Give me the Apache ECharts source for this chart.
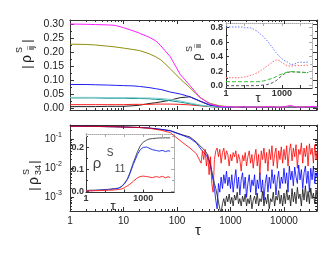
<!DOCTYPE html>
<html><head><meta charset="utf-8">
<script src="https://cdn.jsdelivr.net/npm/echarts@6/dist/echarts.min.js"></script>
<style>html,body{margin:0;padding:0;background:#fff}#c{width:334px;height:256px}</style>
</head><body><div id="c"></div>
<script>
// ---------- DATA ----------
// Top panel |rho^S_ij| vs tau
const topTau = [1,2,3,5,7,10,15,20,30,40,50,75,115,175,270,410,630,1000,1300,1700,2200,2800,3600,4600,6000,7700,10000,13000,17000,22000,28000,36000,42000];
const topMagenta = [.300,.299,.298,.297,.295,.287,.276,.267,.253,.240,.222,.183,.120,.080,.038,.014,.006,.004,.003,.005,.003,.004,.003,.005,.004,.003,.004,.009,.004,.003,.005,.006,.004];
const topOlive = [.228,.227,.225,.221,.218,.214,.209,.205,.194,.183,.172,.140,.104,.072,.037,.017,.008,.004,.003,.004,.003,.003,.004,.003,.004,.003,.003,.004,.003,.004,.003,.004,.003];
const topBlue = [.084,.084,.083,.082,.081,.080,.079,.077,.073,.069,.066,.057,.050,.040,.025,.011,.005,.003,.003,.002,.003,.003,.002,.003,.003,.002,.003,.003,.002,.003,.003,.002,.003];
const topCyan = [.038,.038,.038,.037,.037,.037,.037,.036,.036,.035,.034,.031,.025,.018,.011,.006,.004,.003,.002,.003,.002,.002,.003,.002,.002,.003,.002,.002,.003,.002,.002,.003,.002];
const topTeal = [.036,.036,.036,.035,.035,.035,.034,.034,.033,.031,.030,.026,.021,.015,.009,.005,.003,.002,.002,.002,.003,.002,.002,.002,.003,.002,.002,.002,.003,.002,.002,.002,.003];
const topRed = [.012,.012,.012,.012,.012,.012,.013,.013,.013,.014,.014,.014,.013,.011,.008,.005,.003,.002,.002,.003,.002,.002,.002,.003,.002,.002,.003,.002,.002,.002,.003,.002,.002];
const topBlack = [.005,.005,.005,.006,.006,.006,.008,.010,.016,.019,.022,.028,.037,.040,.024,.010,.005,.003,.002,.002,.002,.003,.002,.002,.002,.002,.002,.003,.002,.002,.002,.002,.002];

// Insets (shared tau grid)
const insetTau = [1,2,3,5,7,10,15,20,30,50,70,100,150,200,300,500,700,1000,1500,2000,3000,5000,7000,10000,15000,20000,26000];
// top inset rho^S_ii
const iiBlue  = [.81,.81,.81,.81,.81,.80,.80,.80,.78,.75,.71,.68,.63,.59,.53,.455,.41,.37,.34,.325,.29,.30,.32,.325,.32,.325,.325];
const iiRed   = [.11,.11,.11,.11,.115,.12,.13,.14,.155,.18,.205,.23,.265,.285,.325,.355,.35,.32,.29,.275,.27,.275,.28,.28,.28,.285,.28];
const iiGreen = [.055,.055,.055,.055,.055,.055,.055,.055,.055,.055,.057,.065,.078,.088,.10,.125,.145,.162,.178,.188,.195,.192,.188,.185,.182,.18,.178];
const iiBlack = [0,0,0,0,0,0,0,0,0,.002,.004,.008,.014,.022,.038,.07,.105,.14,.17,.183,.19,.19,.188,.186,.184,.182,.18];
// bottom inset rho^S_11
const s11Black = [.005,.006,.006,.007,.008,.009,.010,.011,.013,.015,.022,.035,.058,.085,.13,.18,.207,.224,.233,.238,.24,.242,.243,.243,.244,.243,.244];
const s11Blue  = [.004,.004,.005,.006,.007,.008,.009,.010,.012,.015,.021,.033,.055,.080,.122,.168,.19,.20,.202,.197,.19,.186,.183,.187,.181,.185,.183];
const s11Red   = [.003,.003,.004,.004,.005,.005,.006,.006,.007,.009,.011,.016,.026,.033,.046,.062,.068,.07,.068,.066,.063,.068,.064,.069,.062,.067,.064];

// Bottom panel |rho^S_34| vs tau (log)
const botTau = [1,2,4,7,10,20,30,50,75,100,130,175,230,
  282,299,316,335,355,376,398,422,447,473,
  501,531,562,596,631,668,708,750,794,841,
  891,944,1000,1059,1122,1189,1259,1334,1413,1496,
  1585,1679,1778,1884,1995,2113,2239,2371,2512,2661,
  2818,2985,3162,3350,3548,3758,3981,4217,4467,4732,
  5012,5309,5623,5957,6310,6683,7079,7499,7943,8414,
  8913,9441,10000,10593,11220,11885,12589,13335,14125,14962,
  15849,16788,17783,18836,19953,21135,22387,23714,25119,26607,
  28184,29854,31623,33497,35481,37584,39811,41400];
const botRed = [.28,.28,.275,.27,.265,.255,.24,.205,.17,.11,.075,.05,.032,
  .015,.04,.02,.045,.012,.03,.006,.025,.003,.0015,
  .02,.04,.05,.025,.045,.015,.035,.05,.02,.04,
  .03,.012,.03,.018,.035,.025,.04,.015,.03,.02,
  .008,.028,.018,.035,.012,.025,.04,.015,.03,.01,
  .025,.045,.012,.03,.006,.04,.02,.05,.015,.035,
  .008,.045,.02,.06,.012,.03,.05,.01,.04,.02,
  .055,.015,.045,.02,.06,.012,.04,.07,.018,.05,
  .025,.065,.01,.045,.03,.075,.015,.05,.025,.06,
  .012,.07,.03,.05,.015,.065,.02,.04];
const botBlue = [.28,.28,.275,.27,.265,.255,.245,.22,.195,.16,.135,.108,.075,
  .045,.04,.035,.03,.028,.022,.018,.012,.006,.004,
  .002,.0008,.0004,.003,.0015,.005,.002,.006,.003,.008,
  .0025,.005,.002,.006,.0015,.004,.009,.002,.005,.0012,
  .004,.007,.002,.005,.001,.003,.006,.0015,.004,.0025,
  .006,.0012,.004,.002,.007,.0015,.004,.0008,.003,.006,
  .0015,.005,.002,.009,.003,.006,.0012,.004,.008,.002,
  .005,.003,.01,.003,.007,.0015,.012,.004,.008,.0025,
  .011,.005,.003,.013,.004,.009,.002,.007,.012,.003,
  .008,.0015,.01,.004,.012,.003,.007,.005];
const botBlack = [.285,.28,.275,.27,.265,.255,.245,.22,.20,.165,.14,.12,.08,
  .055,.05,.045,.04,.035,.027,.02,.014,.008,.005,
  .003,.002,.0012,.0007,.0004,.0003,.0006,.0009,.0005,.0011,
  .0007,.0013,.0006,.001,.0005,.0012,.0008,.0015,.0006,.0009,
  .0005,.0011,.0007,.0013,.0005,.0009,.0006,.0012,.0004,.0008,
  .0011,.0006,.0014,.0005,.0009,.0007,.0016,.0005,.001,.0006,
  .0013,.0004,.0009,.0007,.0015,.0005,.0011,.0008,.0017,.0006,
  .0012,.0005,.0014,.0006,.0018,.0008,.0012,.0005,.002,.0007,
  .0015,.0006,.0022,.0009,.0013,.0005,.0019,.0008,.0025,.0007,
  .0016,.0006,.0021,.0009,.0014,.0006,.0018,.001];

// Tick labels
const tauLabelVals = [1,10,100,1000,10000];
const tauLabelText = ['1','10','100','1000','10000'];
const topYVals = [0,0.05,0.1,0.15,0.2,0.25,0.3];
const topYText = ['0.00','0.05','0.10','0.15','0.20','0.25','0.30'];
const botYVals = [0.001,0.01,0.1];
const botYText = ['{b|10}{s|-3}','{b|10}{s|-2}','{b|10}{s|-1}'];
const insetTauVals = [1,1000];
const insetTauText = ['1','1000'];
const iiYVals = [0,0.2,0.4,0.6,0.8];
const iiYText = ['0.0','0.2','0.4','0.6','0.8'];
const s11YVals = [0,0.1,0.2];
const s11YText = ['0.0','0.1','0.2'];

// ---------- BUILD ----------
const FF = '"Liberation Sans", Arial, sans-serif';
const pair = (xs, ys) => xs.map((x, i) => [x, ys[i]]);
function fmtFrom(vals, texts) {
  return v => { for (let i = 0; i < vals.length; i++) { if (Math.abs(vals[i] - v) <= 1e-9 + Math.abs(vals[i]) * 1e-6) return texts[i]; } return ''; };
}
function logMinors(e0, e1, lo, hi) {
  const out = [];
  for (let e = e0; e <= e1; e++) for (let m = 2; m <= 9; m++) { const v = m * Math.pow(10, e); if (v >= lo && v <= hi) out.push(v); }
  return out;
}
const xAxes = [], yAxes = [];
function addAxes(list, dim, o) {
  const pos = dim === 'x' ? ['bottom', 'top'] : ['left', 'right'];
  const base = {gridIndex: o.grid, type: o.type, min: o.min, max: o.max, splitLine: {show: false}, splitArea: {show: false}};
  if (o.type === 'log') base.logBase = 10;
  const first = list.length;
  const lbl = o.labels ? Object.assign({show: true, customValues: o.labels, formatter: fmtFrom(o.labels, o.texts),
      fontFamily: FF, fontSize: 10, color: '#222', margin: 6}, o.labelStyle || {}) : {show: false};
  list.push(Object.assign({}, base, {position: pos[0],
    axisLine: {show: true, onZero: false, lineStyle: {color: o.lineColor || '#333', width: 1}},
    axisTick: {show: true, inside: true, length: o.majorLen || 4, customValues: o.majors, lineStyle: {color: o.lineColor || '#333', width: 1}},
    axisLabel: lbl}));
  list.push(Object.assign({}, base, {position: pos[0],
    axisLine: {show: false, onZero: false},
    axisTick: {show: o.minors.length > 0, inside: true, length: o.minorLen || 2, customValues: o.minors.length ? o.minors : o.majors, lineStyle: {color: o.lineColor || '#333', width: 1}},
    axisLabel: {show: false}}));
  const mc = o.mirrorColor || '#333';
  list.push(Object.assign({}, base, {position: pos[1],
    axisLine: {show: true, onZero: false, lineStyle: {color: mc, width: 1, type: o.mirrorType || 'solid'}},
    axisTick: {show: true, inside: true, length: o.majorLen || 4, customValues: o.majors, lineStyle: {color: mc, width: 1}},
    axisLabel: {show: false}}));
  list.push(Object.assign({}, base, {position: pos[1],
    axisLine: {show: false, onZero: false},
    axisTick: {show: o.minors.length > 0, inside: true, length: o.minorLen || 2, customValues: o.minors.length ? o.minors : o.majors, lineStyle: {color: mc, width: 1}},
    axisLabel: {show: false}}));
  return first;
}

const TMAX = 41400;
const tauMajors = [1,10,100,1000,10000];
const tauMinors = logMinors(0, 4, 1, TMAX);

const grids = [
  {left: 70, top: 20, width: 247, height: 90},
  {left: 70, top: 125, width: 247, height: 86},
  {left: 226, top: 23, width: 86, height: 65},
  {left: 86, top: 134, width: 88, height: 58.5}
];

const x0 = addAxes(xAxes, 'x', {grid: 0, type: 'log', min: 1, max: TMAX, majors: tauMajors, minors: tauMinors});
const y0 = addAxes(yAxes, 'y', {grid: 0, type: 'value', min: -0.0071, max: 0.3143, majors: topYVals,
  minors: [0.025,0.075,0.125,0.175,0.225,0.275], labels: topYVals, texts: topYText, labelStyle: {fontSize: 10.5, margin: 6}});
const x1 = addAxes(xAxes, 'x', {grid: 1, type: 'log', min: 1, max: TMAX, majors: tauMajors, minors: tauMinors,
  labels: tauLabelVals, texts: tauLabelText, labelStyle: {fontSize: 10, margin: 5}});
const y1 = addAxes(yAxes, 'y', {grid: 1, type: 'log', min: 3.37e-4, max: 0.311, majors: botYVals,
  minors: logMinors(-4, -1, 3.37e-4, 0.311), labels: botYVals, texts: botYText,
  labelStyle: {margin: 8, rich: {b: {fontSize: 10, fontFamily: FF, color: '#222'}, s: {fontSize: 7, fontFamily: FF, color: '#222', padding: [0, 0, 8, 0]}}}});
const x2 = addAxes(xAxes, 'x', {grid: 2, type: 'log', min: 1, max: TMAX, majors: tauMajors, minors: [],
  labels: insetTauVals, texts: insetTauText, majorLen: 3, mirrorColor: '#aaa', mirrorType: 'dotted',
  labelStyle: {fontSize: 9, fontWeight: 'bold', margin: 1, color: '#333'}});
const y2 = addAxes(yAxes, 'y', {grid: 2, type: 'value', min: -0.032, max: 0.865, majors: iiYVals, minors: [0.1,0.3,0.5,0.7],
  labels: iiYVals, texts: iiYText, majorLen: 3, mirrorColor: '#aaa', mirrorType: 'dotted',
  labelStyle: {fontSize: 9, fontWeight: 'bold', margin: 3, color: '#333'}});
const x3 = addAxes(xAxes, 'x', {grid: 3, type: 'log', min: 1, max: TMAX, majors: tauMajors, minors: [],
  labels: insetTauVals, texts: insetTauText, majorLen: 3, mirrorColor: '#aaa', mirrorType: 'dotted',
  labelStyle: {fontSize: 9, fontWeight: 'bold', margin: 2, color: '#333'}});
const y3 = addAxes(yAxes, 'y', {grid: 3, type: 'value', min: -0.0045, max: 0.261, majors: s11YVals, minors: [0.05,0.15,0.25],
  labels: s11YVals, texts: s11YText, majorLen: 3, mirrorColor: '#aaa', mirrorType: 'dotted',
  labelStyle: {fontSize: 9, fontWeight: 'bold', margin: 2, color: '#333'}});

function line(name, xi, yi, data, color, width, type, z) {
  return {name, type: 'line', xAxisIndex: xi, yAxisIndex: yi, data, showSymbol: false, symbol: 'none',
    lineStyle: {color, width: width || 1, type: type || 'solid'}, itemStyle: {color}, z: z || 2, clip: true, silent: true};
}
const series = [
  line('black', x0, y0, pair(topTau, topBlack), '#222'),
  line('red', x0, y0, pair(topTau, topRed), '#ff2020'),
  line('teal', x0, y0, pair(topTau, topTeal), '#108f8f'),
  line('cyan', x0, y0, pair(topTau, topCyan), '#80cccc'),
  line('blue', x0, y0, pair(topTau, topBlue), '#2020f0'),
  line('olive', x0, y0, pair(topTau, topOlive), '#8f8f10'),
  line('magenta', x0, y0, pair(topTau, topMagenta), '#ff20ff'),
  line('iiBlack', x2, y2, pair(insetTau, iiBlack), '#555', 1, [3, 2]),
  line('iiGreen', x2, y2, pair(insetTau, iiGreen), '#30c030', 1, [4, 2]),
  line('iiRed', x2, y2, pair(insetTau, iiRed), '#ff6a6a', 1, [1.5, 1.5]),
  line('iiBlue', x2, y2, pair(insetTau, iiBlue), '#6a78ff', 1, [1.5, 1.5]),
  line('botBlack', x1, y1, pair(botTau, botBlack), '#111', 0.8),
  line('botBlue', x1, y1, pair(botTau, botBlue), '#0000ff', 0.8),
  line('botRed', x1, y1, pair(botTau, botRed), '#ff0000', 0.8),
  line('s11Black', x3, y3, pair(insetTau, s11Black), '#555', 1),
  line('s11Blue', x3, y3, pair(insetTau, s11Blue), '#2a3cf0', 1),
  line('s11Red', x3, y3, pair(insetTau, s11Red), '#ff3030', 1)
];

const R = Math.PI / 2;
function T(x, y, text, fs, rot, extra) {
  return {type: 'text', x, y, rotation: rot || 0, silent: true, z: 100,
    style: Object.assign({text, fontFamily: FF, fontSize: fs, fill: '#222', align: 'center', verticalAlign: 'middle'}, extra || {})};
}
const graphic = [
  T(198, 231, 'τ', 15),
  T(258, 98, 'τ', 13),
  T(113, 206, 'τ', 13),
  T(27, 67, '|', 13, R), T(27, 59, 'ρ', 14, R), T(20, 50, 'S', 9, R), T(32, 48, 'ij', 9, R), T(27, 41, '|', 13, R),
  T(34, 189, '|', 13, R), T(34, 181, 'ρ', 14, R), T(27, 172, 'S', 9, R), T(39, 170, '34', 9, R), T(34, 162, '|', 13, R),
  T(197, 57, 'ρ', 13, R, {fill: '#333'}), T(190, 49, 'S', 9, R, {fill: '#333'}), T(199, 46, 'ii', 9, R, {fill: '#333'}),
  T(97, 164, 'ρ', 15, 0, {fill: '#444'}), T(110, 153, 'S', 10, 0, {fill: '#444'}), T(120, 169, '11', 10, 0, {fill: '#444'})
];

const chart = echarts.init(document.getElementById('c'), null, {renderer: 'canvas'});
chart.setOption({animation: false, backgroundColor: '#fff', grid: grids, xAxis: xAxes, yAxis: yAxes, series, graphic});
</script></body></html>
